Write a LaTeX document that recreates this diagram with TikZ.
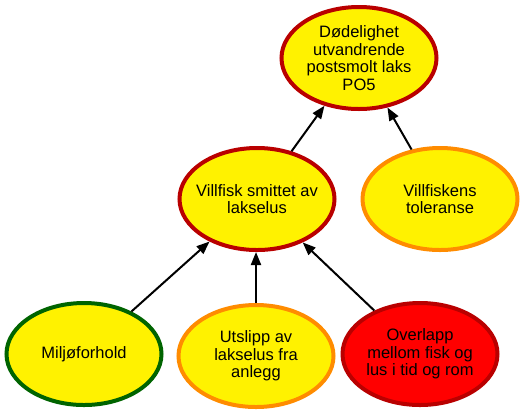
\documentclass[tikz,border=0pt]{standalone}
\usepackage{fontspec}
\setmainfont{Liberation Sans}
\usetikzlibrary{shapes.geometric,arrows.meta}
\definecolor{fillyellow}{RGB}{255,242,0}
\definecolor{darkred}{RGB}{185,0,0}
\definecolor{borderorange}{RGB}{255,140,0}
\definecolor{bordergreen}{RGB}{0,100,0}
\definecolor{fillred}{RGB}{255,0,0}
\tikzset{
  oval/.style={ellipse, draw=darkred, fill=fillyellow, line width=4bp,
    inner xsep=-15bp, inner ysep=-8bp,
    minimum width=155bp, minimum height=102bp, align=center,
    font=\fontsize{16.5bp}{17.5bp}\selectfont},
  conn/.style={line width=2bp, -{Triangle[length=13bp,width=10bp]}}
}
\begin{document}
\begin{tikzpicture}[x=1bp,y=-1bp]
\useasboundingbox (0,0) rectangle (523,418);
\node[oval] (po5) at (359,58) {Dødelighet\\utvandrende\\postsmolt laks\\PO5};
\node[oval] (villfisk) at (257,199) {Villfisk smittet av\\lakselus};
\node[oval, draw=borderorange] (tol) at (440,199) {Villfiskens\\toleranse};
\node[oval, draw=bordergreen] (miljo) at (84,354) {Miljøforhold};
\node[oval, draw=borderorange] (utslipp) at (256,356) {Utslipp av\\lakselus fra\\anlegg};
\node[oval, fill=fillred] (overlapp) at (420,354) {Overlapp\\mellom fisk og\\lus i tid og rom};
\draw[conn] (miljo) -- (villfisk);
\draw[conn] (utslipp.north) -- (utslipp.north |- villfisk.south);
\draw[conn] (overlapp) -- (villfisk);
\draw[conn] (villfisk) -- (po5);
\draw[conn] (tol) -- (po5);
\end{tikzpicture}
\end{document}
